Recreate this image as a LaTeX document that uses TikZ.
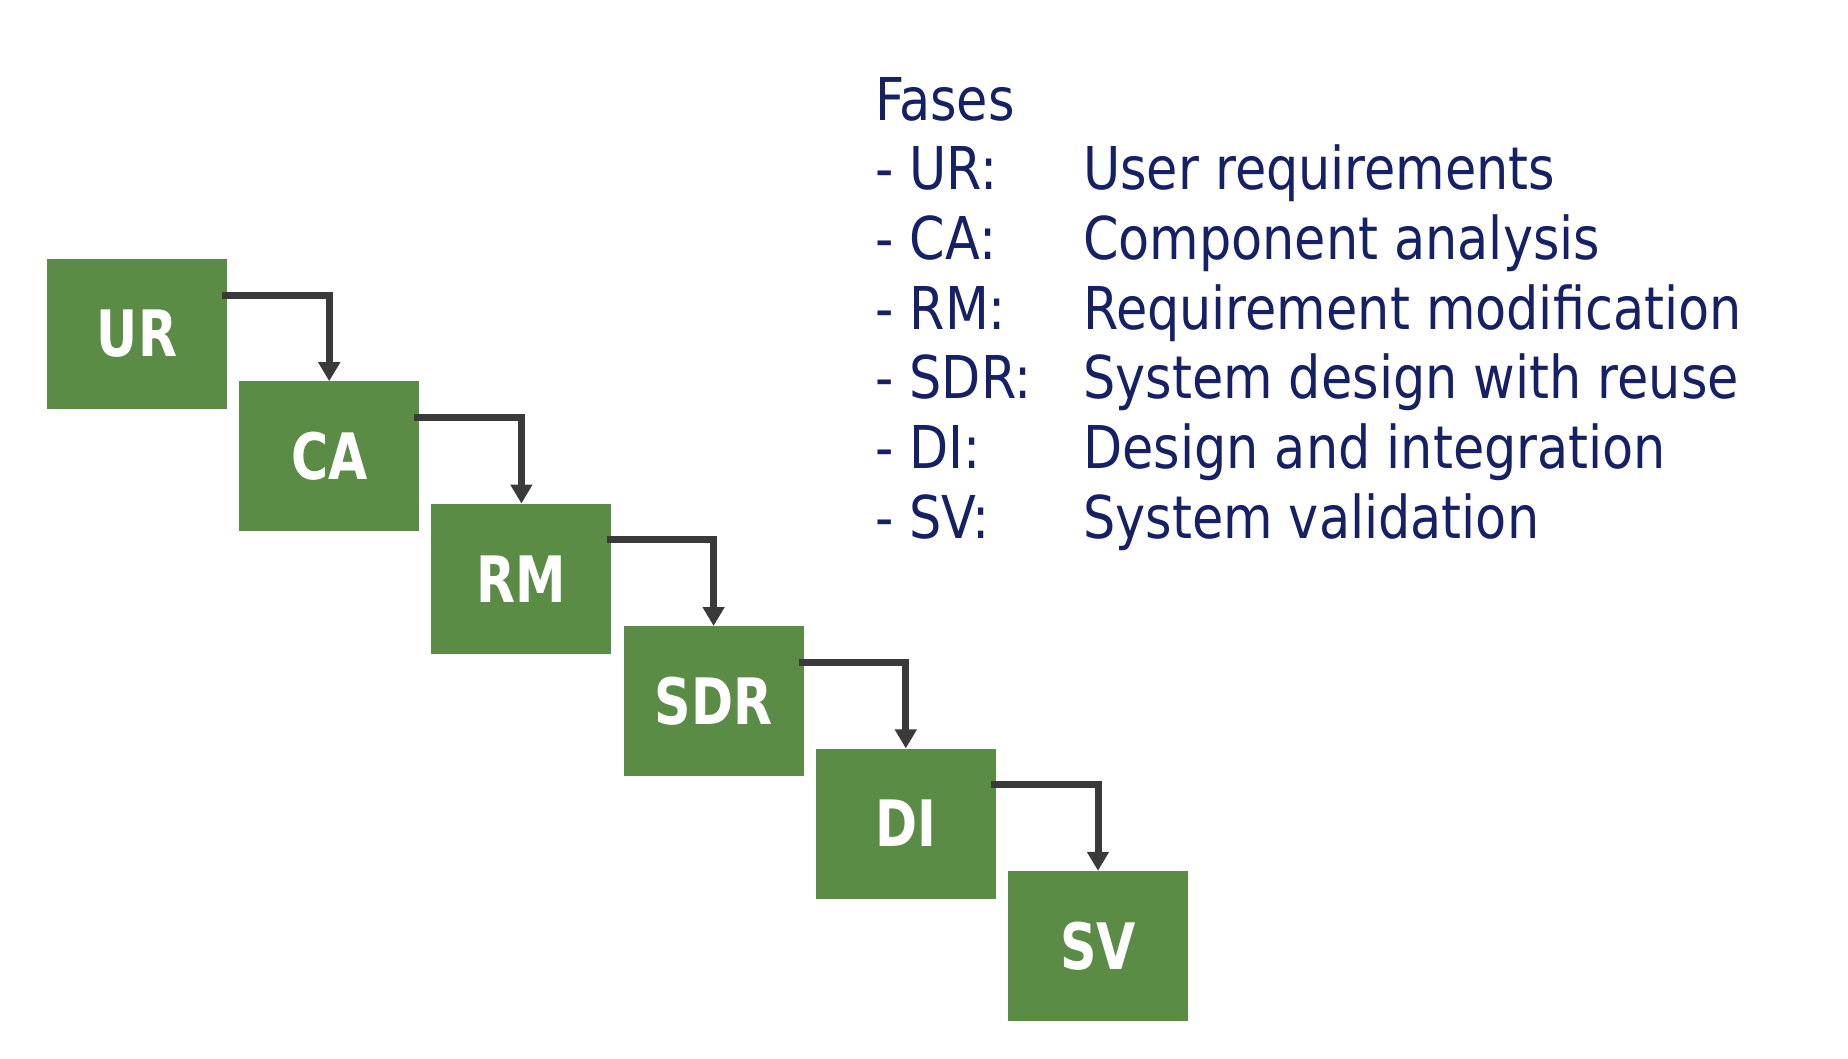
\documentclass[tikz,border=0pt]{standalone}
\usepackage{fontspec}
\usetikzlibrary{arrows.meta}
\newfontfamily\legendfont[FakeStretch=0.958]{DejaVu Sans Condensed}
\newfontfamily\boxfont[FakeStretch=0.88]{DejaVu Sans Condensed Bold}
\definecolor{boxgreen}{RGB}{91,140,70}
\definecolor{navytext}{RGB}{22,32,102}
\definecolor{arrowgray}{RGB}{58,58,58}
\begin{document}
\begin{tikzpicture}[x=1pt,y=-1pt,
  phase/.style={fill=boxgreen,draw=none,minimum width=180pt,minimum height=150pt,inner sep=0pt,
    text=white,font=\boxfont\fontsize{64}{64}\selectfont},
  flow/.style={draw=arrowgray,line width=7pt,-{Triangle[width=21pt,length=19pt]}},
  legend/.style={anchor=base west,inner sep=0pt,text=navytext,font=\legendfont\fontsize{59}{59}\selectfont}]
\path[use as bounding box] (0,0) rectangle (1848,1058);
\foreach \n [count=\i from 0] in {UR,CA,RM,SDR,DI,SV}{
  \node[phase] (\n) at ({137+192.2*\i},{334+122.4*\i}) {\n};
}
\foreach \a/\b in {UR/CA,CA/RM,RM/SDR,SDR/DI,DI/SV}{
  \coordinate (s\a) at ([xshift=-5pt,yshift=39pt]\a.east);
  \draw[flow] (s\a) -| (\b.north);
}
\node[legend] (fases) at (875,120) {Fases};
\foreach \k/\d [count=\i] in {UR/User requirements,CA/Component analysis,RM/Requirement modification,SDR/System design with reuse,DI/Design and integration,SV/System validation}{
  \node[legend] (lk\i) at (875,{120+69.7*\i}) {- \k:};
  \node[legend] (ld\i) at (1083,{120+69.7*\i}) {\d};
}
\end{tikzpicture}
\end{document}
